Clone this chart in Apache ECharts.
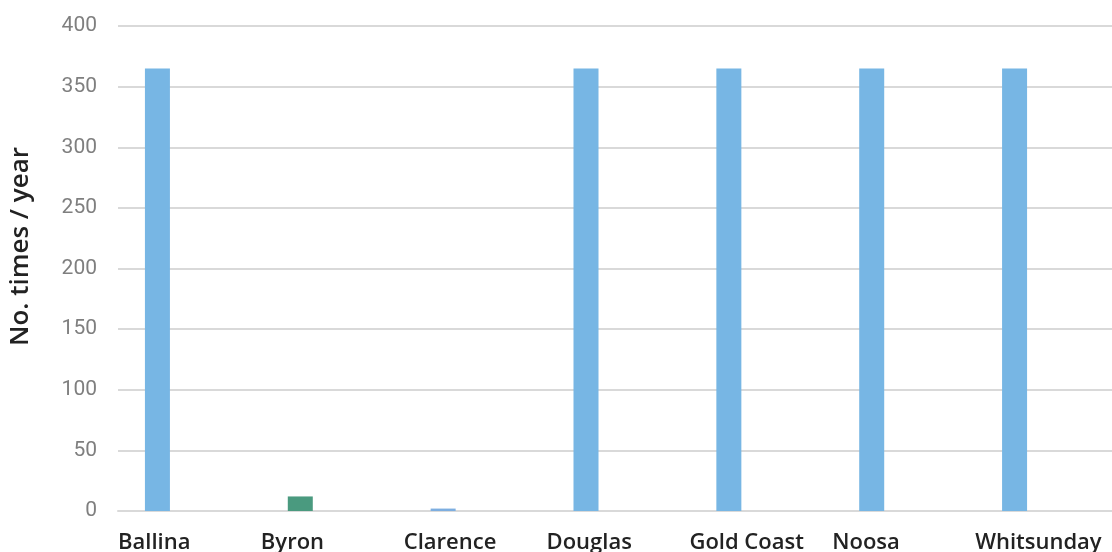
<!DOCTYPE html>
<html>
<head>
<meta charset="utf-8">
<script src="https://cdn.jsdelivr.net/npm/echarts@6/dist/echarts.min.js"></script>
<style>
html,body{margin:0;padding:0;background:#fff;}
#chart{width:1112px;height:552px;}
</style>
</head>
<body>
<div id="chart"></div>
<script>
const categories = ['Ballina', 'Byron', 'Clarence', 'Douglas', 'Gold Coast', 'Noosa', 'Whitsunday'];
const values = [365, 12, 2, 365, 365, 365, 365];
const barColors = ['#77b6e4', '#4a9a7f', '#7daee0', '#77b6e4', '#77b6e4', '#77b6e4', '#77b6e4'];
const yTicks = { min: 0, max: 400, interval: 50 };
const yTitle = 'No. times / year';

const chart = echarts.init(document.getElementById('chart'), null, { renderer: 'canvas' });
const option = {
  animation: false,
  backgroundColor: '#ffffff',
  grid: { left: 118, right: -6, top: 26, bottom: 41, containLabel: false, outerBoundsMode: 'none' },
  xAxis: [
    {
      type: 'category',
      data: categories,
      boundaryGap: true,
      axisLine: { show: true, lineStyle: { color: '#d9d9d9', width: 2 } },
      axisTick: { show: false },
      axisLabel: { show: false }
    },
    {
      type: 'category',
      data: categories.concat(['']),
      boundaryGap: false,
      position: 'bottom',
      axisLine: { show: false },
      axisTick: { show: false },
      axisLabel: {
        show: true,
        align: 'left',
        margin: 21,
        interval: 0,
        hideOverlap: false,
        color: '#222222',
        fontFamily: 'Open Sans',
        fontWeight: 600,
        fontSize: 22
      }
    }
  ],
  yAxis: {
    type: 'value',
    min: yTicks.min,
    max: yTicks.max,
    interval: yTicks.interval,
    name: yTitle,
    nameLocation: 'middle',
    nameGap: 84,
    nameTextStyle: { color: '#222222', fontFamily: 'Open Sans', fontWeight: 600, fontSize: 26, padding: [0, 0, 0, 44] },
    axisLine: { show: false },
    axisTick: { show: false },
    axisLabel: { color: '#7f7f7f', fontFamily: 'Roboto', fontSize: 21, margin: 21 },
    splitLine: { lineStyle: { color: '#d9d9d9', width: 2 } }
  },
  series: [
    {
      type: 'bar',
      xAxisIndex: 0,
      barWidth: 25,
      barGap: '28%',
      data: values.map((v, i) => ({ value: v, itemStyle: { color: barColors[i] } }))
    },
    { type: 'bar', xAxisIndex: 0, barWidth: 25, barGap: '28%', data: [] },
    { type: 'bar', xAxisIndex: 0, barWidth: 25, barGap: '28%', data: [] }
  ]
};
chart.setOption(option);
</script>
</body>
</html>
